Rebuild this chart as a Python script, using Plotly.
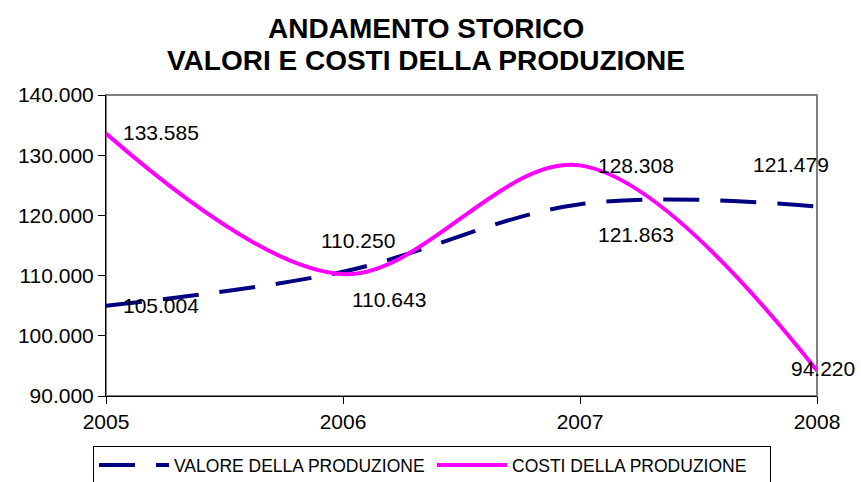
import plotly.graph_objects as go

anni = [2005, 2006, 2007, 2008]
valore_produzione = [105004, 110643, 121863, 121479]
costi_produzione = [133585, 110250, 128308, 94220]
nomi_serie = ["VALORE DELLA PRODUZIONE", "COSTI DELLA PRODUZIONE"]
titolo = ["ANDAMENTO STORICO", "VALORI E COSTI DELLA PRODUZIONE"]

# label offsets (px) roughly as in the excel chart
off_valore = [(55, 0), (46, -28), (56, -30), (-26, 42)]
off_costi = [(55, 1), (15, 34), (56, 0), (6, 2)]

def fmt(v):
    return f"{v:,}".replace(",", ".")

fig = go.Figure()
fig.add_trace(go.Scatter(x=anni, y=valore_produzione, name=nomi_serie[0], mode="lines",
                         line=dict(color="#000080", width=4, dash="36px,21px", shape="spline")))
fig.add_trace(go.Scatter(x=anni, y=costi_produzione, name=nomi_serie[1], mode="lines",
                         line=dict(color="#FF00FF", width=4, shape="spline")))

ann = []
for serie, off in [(valore_produzione, off_valore), (costi_produzione, off_costi)]:
    for x, y, (dx, dy) in zip(anni, serie, off):
        ann.append(dict(x=x, y=y, text=fmt(y), showarrow=False, xshift=dx, yshift=dy,
                        font=dict(family="Liberation Sans", size=21, color="black")))
# titolo su due righe
for t, yy in zip(titolo, [1 + 67 / 301, 1 + 34 / 301]):
    ann.append(dict(xref="paper", yref="paper", x=(426 - 106) / 711, y=yy,
                    xanchor="center", yanchor="middle",
                    text="<b>" + t + "</b>", showarrow=False,
                    font=dict(family="Liberation Sans", size=28, color="black")))

fig.update_layout(
    width=861, height=482,
    margin=dict(l=106, r=44, t=95, b=86),
    paper_bgcolor="white", plot_bgcolor="white",
    separators=",.",
    font=dict(family="Liberation Sans", size=21, color="black"),
    annotations=ann,
    showlegend=True,
    legend=dict(orientation="h", xref="container", x=93 / 861, xanchor="left",
                yref="container", y=(482 - 446) / 482, yanchor="top",
                bordercolor="black", borderwidth=1, bgcolor="white",
                font=dict(family="Liberation Sans", size=17.5, color="black"),
                itemwidth=70, entrywidth=253, tracegroupgap=0),
    shapes=[dict(type="rect", xref="paper", yref="paper", x0=0, y0=0, x1=1, y1=1,
                 line=dict(color="#808080", width=2), layer="below")],
)
fig.update_xaxes(range=[2005, 2008], tickvals=anni, ticktext=[str(a) for a in anni],
                 showgrid=False, zeroline=False, showline=True, linecolor="black", linewidth=1,
                 ticks="outside", ticklen=7, tickcolor="black")
fig.update_yaxes(range=[90000, 140000], dtick=10000, tickformat=",d",
                 showgrid=False, zeroline=False, showline=True, linecolor="black", linewidth=1,
                 ticks="outside", ticklen=7, tickcolor="black")

# no body margin, so the figure fills the window exactly
fig.write_html("out.html", config={"displayModeBar": False},
               post_script="document.body.style.margin='0px';")
